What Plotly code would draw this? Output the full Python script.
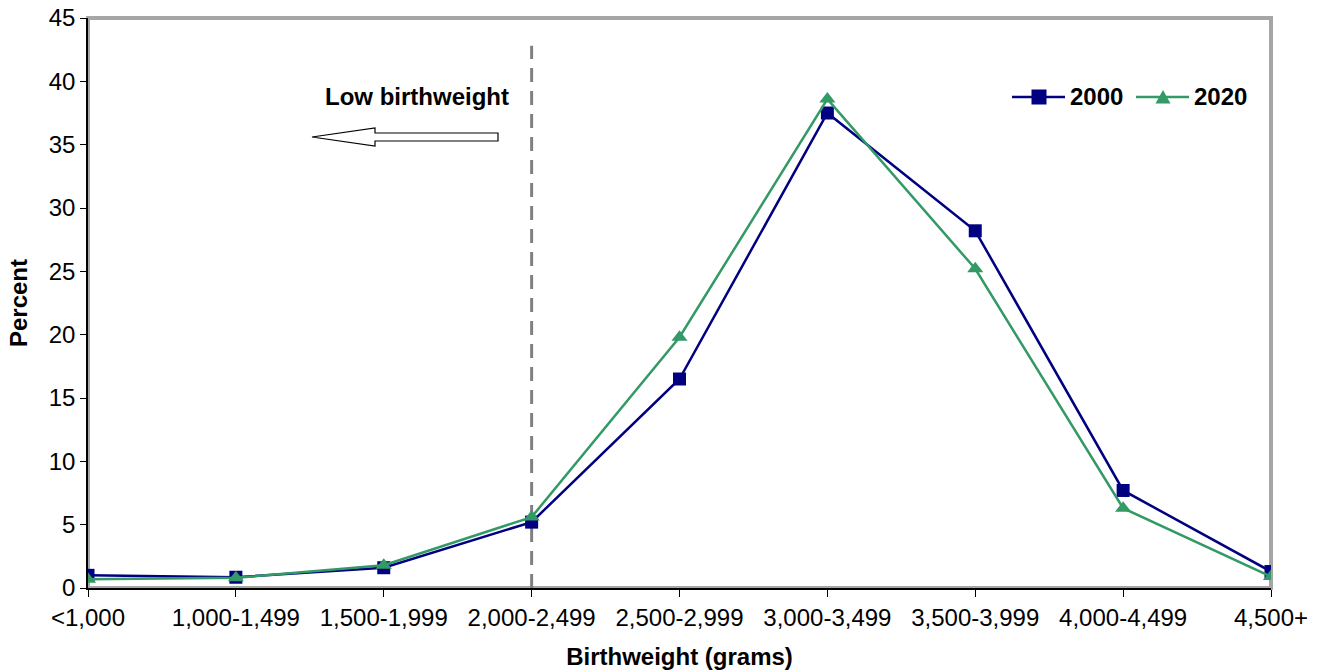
import plotly.graph_objects as go

categories = ["<1,000", "1,000-1,499", "1,500-1,999", "2,000-2,499", "2,500-2,999",
              "3,000-3,499", "3,500-3,999", "4,000-4,499", "4,500+"]
pct_2000 = [1.0, 0.85, 1.6, 5.2, 16.5, 37.5, 28.2, 7.7, 1.3]
pct_2020 = [0.7, 0.8, 1.8, 5.6, 19.8, 38.6, 25.2, 6.3, 0.9]
y_ticks = [0, 5, 10, 15, 20, 25, 30, 35, 40, 45]
series_names = ["2000", "2020"]
series_colors = ["#000080", "#339966"]
cutoff_category = "2,000-2,499"
cutoff_top = 42.8

FONT = "Liberation Sans, Arial, sans-serif"
FS = 24

FIG_W, FIG_H = 1322, 670
L, T = 88, 18
W, H = 1183.0, 570.0
R = FIG_W - L - int(W)
B = FIG_H - T - int(H)

fig = go.Figure()
fig.add_trace(go.Scatter(
    x=categories, y=pct_2000, name=series_names[0], mode="lines+markers",
    line=dict(color=series_colors[0], width=2.5),
    marker=dict(symbol="square", size=13, color=series_colors[0]),
))
fig.add_trace(go.Scatter(
    x=categories, y=pct_2020, name=series_names[1], mode="lines+markers",
    line=dict(color=series_colors[1], width=2.5),
    marker=dict(symbol="triangle-up", size=14, color=series_colors[1]),
))

fig.add_shape(type="line", xref="x", yref="y",
              x0=cutoff_category, x1=cutoff_category, y0=0, y1=cutoff_top,
              line=dict(color="#808080", width=3, dash="14px,9px"), layer="below")

fig.add_shape(type="rect", xref="paper", yref="paper", x0=0, x1=1, y0=0, y1=1,
              line=dict(color="#A6A6A6", width=4), layer="below")

# screen-pixel helpers
def px(x):
    return (x - L) / W
def py(y):
    return (T + H - y) / H

# hollow block arrow
tip_x, tail_x, head_x = 312, 498, 375
cy, sh, hh = 137, 4, 9
path = (f"M {px(tip_x)},{py(cy)} L {px(head_x)},{py(cy - hh)} L {px(head_x)},{py(cy - sh)} "
        f"L {px(tail_x)},{py(cy - sh)} L {px(tail_x)},{py(cy + sh)} L {px(head_x)},{py(cy + sh)} "
        f"L {px(head_x)},{py(cy + hh)} Z")
fig.add_shape(type="path", xref="paper", yref="paper", path=path,
              line=dict(color="black", width=1.2), fillcolor="white")

fig.add_annotation(text="<b>Low birthweight</b>", xref="paper", yref="paper",
                   x=px(417), y=py(97), xanchor="center", yanchor="middle", showarrow=False,
                   font=dict(family=FONT, size=FS, color="black"))

# custom legend (long line segments like the original)
ly = 97
fig.add_shape(type="line", xref="paper", yref="paper", x0=px(1012), x1=px(1065),
              y0=py(ly), y1=py(ly), line=dict(color=series_colors[0], width=2.5))
fig.add_shape(type="rect", xref="paper", yref="paper", x0=px(1031.5), x1=px(1046.5),
              y0=py(ly + 7.5), y1=py(ly - 7.5), line=dict(width=0),
              fillcolor=series_colors[0])
fig.add_annotation(text=f"<b>{series_names[0]}</b>", xref="paper", yref="paper",
                   x=px(1068), y=py(ly), xanchor="left", yanchor="middle", showarrow=False,
                   font=dict(family=FONT, size=FS, color="black"))
fig.add_shape(type="line", xref="paper", yref="paper", x0=px(1136), x1=px(1189),
              y0=py(ly), y1=py(ly), line=dict(color=series_colors[1], width=2.5))
fig.add_shape(type="path", xref="paper", yref="paper",
              path=f"M {px(1155.5)},{py(ly + 6.5)} L {px(1170.5)},{py(ly + 6.5)} L {px(1163)},{py(ly - 7)} Z",
              line=dict(width=0), fillcolor=series_colors[1])
fig.add_annotation(text=f"<b>{series_names[1]}</b>", xref="paper", yref="paper",
                   x=px(1192), y=py(ly), xanchor="left", yanchor="middle", showarrow=False,
                   font=dict(family=FONT, size=FS, color="black"))

fig.update_layout(
    width=FIG_W, height=FIG_H,
    margin=dict(l=L, r=R, t=T, b=B, autoexpand=False),
    paper_bgcolor="white", plot_bgcolor="white",
    font=dict(family=FONT, size=FS, color="black"),
    showlegend=False,
    xaxis=dict(
        type="category", categoryorder="array", categoryarray=categories,
        range=[0, len(categories) - 1], automargin=False,
        showline=True, linecolor="black", linewidth=1.5,
        ticks="outside", ticklen=7, tickcolor="black",
        showgrid=False, zeroline=False,
        tickfont=dict(family=FONT, size=FS),
        title=dict(text="<b>Birthweight (grams)</b>", font=dict(family=FONT, size=FS), standoff=26),
    ),
    yaxis=dict(
        range=[0, 45], tickvals=y_ticks, automargin=False,
        showline=True, linecolor="black", linewidth=1.5,
        ticks="outside", ticklen=6, tickcolor="black",
        showgrid=False, zeroline=False, ticklabeloverflow="allow",
        tickfont=dict(family=FONT, size=FS),
        title=dict(text="<b>Percent</b>", font=dict(family=FONT, size=FS), standoff=14),
    ),
)

fig.write_html("out.html",
               config={"displayModeBar": False},
               post_script="document.body.style.margin='0px';document.body.style.overflow='hidden';")
